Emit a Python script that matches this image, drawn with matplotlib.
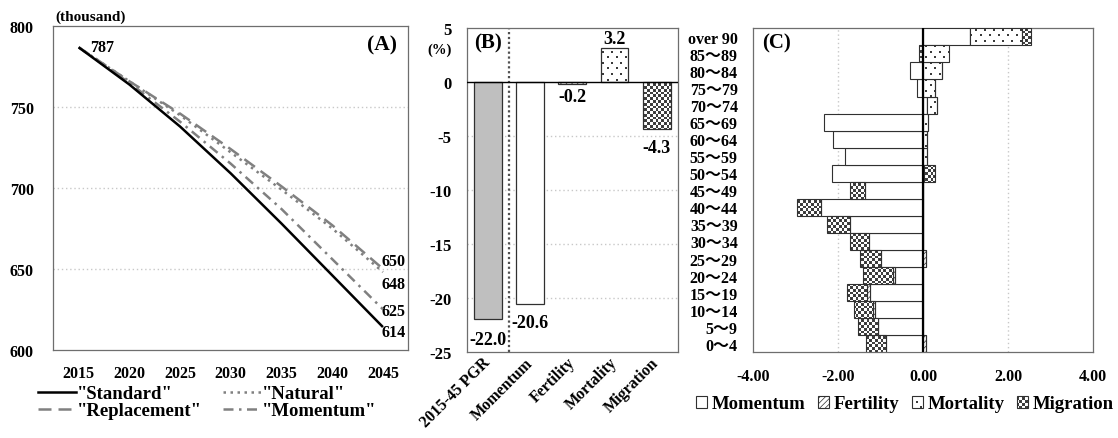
import numpy as np
import matplotlib
matplotlib.use("Agg")
import matplotlib.pyplot as plt
import matplotlib.hatch as mhatch
from matplotlib.path import Path
from matplotlib.patches import Patch
from matplotlib.lines import Line2D

# ---------------- data ----------------
years = [2015, 2020, 2025, 2030, 2035, 2040, 2045]
proj_standard = [787, 764, 738, 709, 678, 646, 614]
proj_natural = [787, 766, 745, 722, 699, 675, 648]
proj_replacement = [787, 766, 746, 724, 701, 677, 650]
proj_momentum = [787, 765, 741, 715, 687, 656, 625]

b_categories = ["2015-45 PGR", "Momentum", "Fertility", "Mortality", "Migration"]
b_values = [-22.0, -20.6, -0.2, 3.2, -4.3]

age_groups = ["0～4", "5～9", "10～14", "15～19", "20～24", "25～29", "30～34",
              "35～39", "40～44", "45～49", "50～54", "55～59", "60～64",
              "65～69", "70～74", "75～79", "80～84", "85～89", "over 90"]
c_momentum = [-0.87, -1.06, -1.13, -1.25, -0.65, -0.98, -1.28, -1.72, -2.41,
              -1.37, -2.14, -1.83, -2.12, -2.33, 0.09, -0.14, -0.31, -0.02, 1.11]
c_fertility = [0.06, -0.01, -0.04, -0.06, -0.05, 0.08, 0, 0, 0, 0, 0, 0, 0,
               0, 0, 0, 0, 0, 0]
c_mortality = [0, 0, 0, 0, 0, 0, 0, 0, 0, 0, 0.02, 0.09, 0.09, 0.12, 0.23,
               0.28, 0.44, 0.61, 1.21]
c_migration = [-0.47, -0.47, -0.46, -0.49, -0.71, -0.50, -0.43, -0.53, -0.56,
               -0.35, 0.26, 0, 0, 0, 0, 0, 0, -0.07, 0.22]
c_tick_values = [-4, -2, 0, 2, 4]


# ---------------- custom hatch patterns (checkerboard and square dots) -------
# hatch tile = 72 pt = 100 px at dpi 100; squares snapped to whole pixels,
# shrunk by half the hatch stroke so the stroked result is crisp.
HALF_STROKE = 0.5 * 0.5 * 100 / 72 / 100.0


class _SquareTiles(mhatch.HatchPatternBase):
    char = None

    def __init__(self, hatch, density):
        self.squares = self.make_squares() if (hatch and self.char in hatch) else []
        self.num_vertices = 5 * len(self.squares)

    def set_vertices_and_codes(self, vertices, codes):
        v = []
        e = HALF_STROKE
        for (x0, y0, x1, y1) in self.squares:
            x0, y0, x1, y1 = x0 + e, y0 + e, x1 - e, y1 - e
            v += [(x0, y0), (x1, y0), (x1, y1), (x0, y1), (x0, y0)]
        vertices[:] = np.array(v, dtype=float)
        codes[:] = [Path.MOVETO, Path.LINETO, Path.LINETO, Path.LINETO,
                    Path.CLOSEPOLY] * len(self.squares)


class CheckerHatch(_SquareTiles):
    char = "*"

    def make_squares(self):
        n = 36
        edges = [round(i * 100 / n) / 100.0 for i in range(n + 1)]
        return [(edges[i], edges[j], edges[i + 1], edges[j + 1])
                for i in range(n) for j in range(n) if (i + j) % 2 == 0]


class DotHatch(_SquareTiles):
    char = "o"

    def make_squares(self):
        nx, ny = 11, 18
        out = []
        for r in range(ny):
            y = round((r + 0.5) * 100 / ny) / 100.0
            shift = 0.5 if r % 2 else 0.0
            for c in range(nx):
                x = round((c + 0.25 + shift) * 100 / nx) / 100.0
                out.append((x, y, x + 0.02, y + 0.02))
        return out


mhatch._hatch_types = [t for t in mhatch._hatch_types
                       if t not in (mhatch.Stars, mhatch.SmallCircles)] + [CheckerHatch, DotHatch]

# ---------------- style ----------------
plt.rcParams["font.family"] = ["Liberation Serif", "Noto Sans CJK JP"]
plt.rcParams["font.weight"] = "bold"
plt.rcParams["axes.unicode_minus"] = False
plt.rcParams["hatch.linewidth"] = 0.5
plt.rcParams["hatch.color"] = "black"

GRAY = "#808080"
SPINE = "#6e6e6e"
GRID = "#c8c8c8"
EDGE = "#303030"

fig = plt.figure(figsize=(11.18, 4.39), dpi=100)

W, H = 1118.0, 439.0


def px_axes(l, t, r, b):
    return fig.add_axes([l / W, 1 - b / H, (r - l) / W, (b - t) / H])


def style_spines(ax):
    for s in ax.spines.values():
        s.set_color(SPINE)
        s.set_linewidth(0.9)


# ---------------- Panel A ----------------
axA = px_axes(53.3, 27.3, 408.3, 350.7)
style_spines(axA)
lw = 1.8
axA.plot(years, proj_standard, color="black", lw=lw, solid_capstyle="butt", zorder=5)
axA.plot(years, proj_natural, color=GRAY, lw=lw, linestyle=(0, (1, 1.8)), zorder=3)
axA.plot(years, proj_replacement, color=GRAY, lw=lw, linestyle=(0, (5.2, 2.8)), zorder=4)
axA.plot(years, proj_momentum, color=GRAY, lw=lw, linestyle=(0, (4, 2.2, 1, 2.2)), zorder=4)
axA.set_xlim(2012.5, 2047.5)
axA.set_ylim(600, 800)
axA.set_xticks(years)
axA.set_yticks([600, 650, 700, 750, 800])
axA.tick_params(axis="both", length=0, labelsize=11.5)
axA.tick_params(axis="y", pad=14)
axA.tick_params(axis="x", pad=11)
for yv in [650, 700, 750]:
    axA.axhline(yv, color=GRID, lw=1.0, linestyle=(0, (1, 2)), zorder=1)

axA.annotate(f"{proj_standard[0]}", (years[0], proj_standard[0]), xytext=(8, 0),
             textcoords="offset points", ha="left", va="center", fontsize=11.5)
end_series = [proj_replacement, proj_natural, proj_momentum, proj_standard]
end_offsets_pt = [6, -8.6, -1, -3.7]
for s, off in zip(end_series, end_offsets_pt):
    axA.annotate(f"{s[-1]}", (years[-1], s[-1]), xytext=(-1, off),
                 textcoords="offset points", ha="left", va="center", fontsize=11.5)
axA.text(0.967, 0.945, "(A)", transform=axA.transAxes, ha="right", va="center", fontsize=15.5)
fig.text(55 / W, 1 - 17 / H, "(thousand)", ha="left", va="center", fontsize=11)

handlesA = [
    Line2D([], [], color="black", lw=lw),
    Line2D([], [], color=GRAY, lw=lw, linestyle=(0, (5.2, 2.8))),
    Line2D([], [], color=GRAY, lw=lw, linestyle=(0, (1, 1.8))),
    Line2D([], [], color=GRAY, lw=lw, linestyle=(0, (4, 2.2, 1, 2.2))),
]
labelsA = ['"Standard"', '"Replacement"', '"Natural"', '"Momentum"']
fig.legend(handlesA, labelsA, ncol=2, loc="upper left",
           bbox_to_anchor=(38 / W, 1 - 386 / H), frameon=False, fontsize=13.5,
           handlelength=2.0, handletextpad=0.1, columnspacing=1.1,
           labelspacing=0.0, borderpad=0, borderaxespad=0)

# ---------------- Panel B ----------------
axB = px_axes(467, 29.3, 677.7, 352.7)
style_spines(axB)
xb = np.arange(len(b_categories))
b_face = ["#bfbfbf", "white", "white", "white", "white"]
b_hatch = [None, None, "//////", "o", "*"]
for i in range(len(b_values)):
    axB.bar(xb[i], b_values[i], width=0.66, color=b_face[i], edgecolor=EDGE,
            linewidth=0.9, hatch=b_hatch[i], zorder=3)
axB.set_xlim(-0.5, len(b_categories) - 0.5)
axB.set_ylim(-25, 5)
axB.set_yticks([5, 0, -5, -10, -15, -20, -25])
axB.axhline(0, color="black", lw=1.0, zorder=4)
for yv in [-5, -10, -15, -20]:
    axB.axhline(yv, color=GRID, lw=1.0, linestyle=(0, (1, 2)), zorder=1)
axB.axvline(0.5, color="#505050", lw=1.6, linestyle=(0, (1, 1.2)), zorder=2)
axB.tick_params(axis="y", length=0, labelsize=12, pad=11)
axB.set_xticks(xb)
axB.set_xticklabels(b_categories, rotation=45, ha="right", va="center",
                    rotation_mode="anchor", fontsize=11.5)
axB.tick_params(axis="x", length=0, pad=6)
b_label_offsets_pt = [-14.4, -13, -8.4, 6.3, -13.5]
for i, v in enumerate(b_values):
    axB.annotate(f"{v:.1f}", (xb[i], v), xytext=(0, b_label_offsets_pt[i]),
                 textcoords="offset points", ha="center", va="center",
                 fontsize=13, zorder=6)
axB.text(0.033, 0.957, "(B)", transform=axB.transAxes, ha="left", va="center", fontsize=15)
fig.text(440 / W, 1 - 50 / H, "(%)", ha="center", va="center", fontsize=10.5)

# ---------------- Panel C ----------------
axC = px_axes(753, 29.3, 1093, 353.3)
style_spines(axC)
yc = np.arange(len(age_groups))
series_c = [c_momentum, c_fertility, c_mortality, c_migration]
c_hatch = [None, "//////", "o", "*"]
pos_cum = np.zeros(len(age_groups))
neg_cum = np.zeros(len(age_groups))
for vals, hh in zip(series_c, c_hatch):
    vals = np.asarray(vals, dtype=float)
    lefts = np.where(vals >= 0, pos_cum, neg_cum)
    axC.barh(yc, vals, left=lefts, height=1.0, color="white", edgecolor=EDGE,
             linewidth=0.8, hatch=hh, zorder=3)
    pos_cum += np.where(vals >= 0, vals, 0)
    neg_cum += np.where(vals < 0, vals, 0)
axC.set_xlim(-4, 4)
axC.set_ylim(-0.5, len(age_groups) - 0.5)
axC.set_yticks(yc)
axC.set_yticklabels(age_groups, fontsize=11.5)
axC.set_xticks(c_tick_values)
axC.set_xticklabels([f"{v:.2f}" for v in c_tick_values], fontsize=11.5)
axC.tick_params(axis="both", length=0)
axC.tick_params(axis="y", pad=11)
axC.tick_params(axis="x", pad=11)
axC.axvline(0, color="black", lw=1.6, zorder=5)
for xv in [-2, 2]:
    axC.axvline(xv, color=GRID, lw=1.0, linestyle=(0, (1, 2)), zorder=1)
axC.text(0.026, 0.957, "(C)", transform=axC.transAxes, ha="left", va="center", fontsize=15)

handlesC = [Patch(facecolor="white", edgecolor=EDGE, linewidth=0.8, hatch=h)
            for h in [None, "//////", "o", "*"]]
labelsC = ["Momentum", "Fertility", "Mortality", "Migration"]
fig.legend(handlesC, labelsC, ncol=4, loc="center",
           bbox_to_anchor=(905 / W, 1 - 405 / H), frameon=False, fontsize=13.5,
           handlelength=0.6, handleheight=0.6, handletextpad=0.25,
           columnspacing=0.65, borderpad=0, borderaxespad=0)

fig.savefig("out.png", dpi=100)
